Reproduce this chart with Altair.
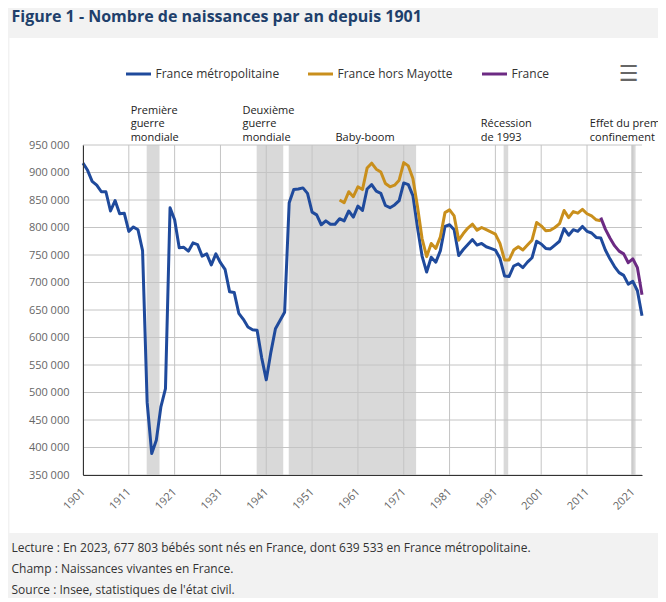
import altair as alt
import pandas as pd

# ---------------- data ----------------
YEARS_METRO = list(range(1901, 2024))
METRO = [
    917000, 904000, 884000, 877000, 865000, 865000, 830000, 849000, 825000, 826000,   # 1901-1910
    793000, 801000, 796000, 758000, 482000, 389000, 413000, 474000, 507000, 836000,   # 1911-1920
    814000, 763000, 764000, 757000, 772000, 769000, 748000, 752000, 732000, 752000,   # 1921-1930
    736000, 724000, 683000, 682000, 644000, 633000, 619000, 614000, 613000, 563000,   # 1931-1940
    523000, 573000, 616000, 631000, 646000, 845000, 869000, 870000, 872000, 862000,   # 1941-1950
    828000, 823000, 805000, 812000, 806000, 806000, 816000, 812000, 830000, 819000,   # 1951-1960
    839000, 831000, 870000, 878000, 866000, 862000, 840000, 836000, 841000, 849000,   # 1961-1970
    881000, 878000, 858000, 800000, 748000, 719000, 746000, 737000, 758000, 802000,   # 1971-1980
    805000, 796000, 749000, 760000, 769000, 778000, 768000, 771000, 765000, 762000,   # 1981-1990
    759000, 744000, 712000, 711000, 730000, 734000, 727000, 737000, 745000, 775000,   # 1991-2000
    770000, 762000, 761000, 768000, 775000, 798000, 786000, 796000, 793000, 802000,   # 2001-2010
    793000, 790000, 782000, 781000, 759000, 743000, 729000, 718000, 713000, 697000,   # 2011-2020
    702000, 685000, 639533,                                                           # 2021-2023
]

YEARS_HM = list(range(1957, 2015))
HORS_MAYOTTE = [
    850000, 845000, 865000, 856000,                                                   # 1957-1960
    874000, 869000, 908000, 917000, 906000, 901000, 880000, 874000, 877000, 886000,   # 1961-1970
    918000, 912000, 889000, 838000, 780000, 747000, 771000, 762000, 783000, 827000,   # 1971-1980
    832000, 821000, 777000, 789000, 799000, 806000, 795000, 800000, 796000, 792000,   # 1981-1990
    788000, 771000, 741000, 741000, 759000, 765000, 759000, 768000, 777000, 809000,   # 1991-2000
    803000, 794000, 795000, 800000, 807000, 831000, 818000, 829000, 826000, 833000,   # 2001-2010
    825000, 821000, 814000, 812000,                                                   # 2011-2014
]

YEARS_FR = list(range(2014, 2024))
FRANCE = [818000, 797000, 781000, 767000, 757000, 752000, 736000, 743000, 727000, 677803]

SERIES = ["France métropolitaine", "France hors Mayotte", "France"]
COLORS = ["#1f4a9c", "#c98f1c", "#6c2a83"]

BAND_START = [1914.9, 1938.9, 1945.9, 1992.8, 2020.6]
BAND_END = [1917.7, 1944.7, 1973.7, 1993.8, 2021.6]

NOTE_X = [1911.4, 1935.8, 1956.1, 1987.8, 2011.6]
NOTE_LINES = [
    ["Première", "guerre", "mondiale"],
    ["Deuxième", "guerre", "mondiale"],
    ["Baby-boom"],
    ["Récession", "de 1993"],
    ["Effet du premier", "confinement"],
]

X_TICKS = list(range(1901, 2022, 10))
Y_TICKS = list(range(350000, 950001, 50000))

TITLE = "Figure 1 - Nombre de naissances par an depuis 1901"
FOOTER = [
    "Lecture : En 2023, 677 803 bébés sont nés en France, dont 639 533 en France métropolitaine.",
    "Champ : Naissances vivantes en France.",
    "Source : Insee, statistiques de l'état civil.",
]

# ---------------- tables ----------------
rows = []
for name, yrs, vals in zip(SERIES, [YEARS_METRO, YEARS_HM, YEARS_FR], [METRO, HORS_MAYOTTE, FRANCE]):
    for y, v in zip(yrs, vals):
        rows.append({"annee": y, "naissances": v, "serie": name})
df = pd.DataFrame(rows)

bands_df = pd.DataFrame({"start": BAND_START, "end": BAND_END})
note_rows = []
for x, lines_ in zip(NOTE_X, NOTE_LINES):
    for lev, txt in enumerate(reversed(lines_)):
        note_rows.append({"x": x, "t": txt, "level": lev})
notes_df = pd.DataFrame(note_rows)
one = pd.DataFrame({"k": [0]})

FONT = "Open Sans"

xscale = alt.Scale(domain=[1901, 2023], nice=False, zero=False)
yscale = alt.Scale(domain=[350000, 950000], nice=False, zero=False)

xaxis = alt.Axis(values=X_TICKS, format="d", labelAngle=-45, labelAlign="right", labelBaseline="middle",
                 grid=False, ticks=False,
                 domainColor="#333333", labelColor="#666666", labelFontSize=11, labelFont=FONT,
                 labelPadding=15, labelFlush=False, labelOverlap=False, title=None, zindex=1)
yaxis = alt.Axis(values=Y_TICKS, labelExpr="replace(format(datum.value, ','), ',', ' ')",
                 grid=False, ticks=False, domainColor="#333333", labelColor="#666666",
                 labelFontSize=11, labelFont=FONT, labelPadding=14, labelOverlap=False,
                 title=None, zindex=1)


def X(f):
    return alt.X(f, scale=xscale, axis=xaxis)


def Y(f):
    return alt.Y(f, scale=yscale, axis=yaxis)


panel = alt.Chart(one).mark_rect(color="white").encode(
    x=alt.value(-73.5), x2=alt.value(640), y=alt.value(-107), y2=alt.value(388))

bands = alt.Chart(bands_df).mark_rect(color="#d9d9d9").encode(x=X("start:Q"), x2="end:Q")

vgrid = alt.Chart(pd.DataFrame({"x": X_TICKS})).mark_rule(color="#c4c4c4", strokeWidth=1).encode(x=X("x:Q"))
hgrid = alt.Chart(pd.DataFrame({"y": Y_TICKS})).mark_rule(color="#c4c4c4", strokeWidth=1).encode(y=Y("y:Q"))

lines = alt.Chart(df).mark_line(strokeWidth=3, strokeJoin="round").encode(
    x=X("annee:Q"),
    y=Y("naissances:Q"),
    color=alt.Color("serie:N", scale=alt.Scale(domain=SERIES, range=COLORS),
                    legend=alt.Legend(orient="none", legendX=41.5, legendY=-85, direction="horizontal",
                                      title=None, symbolType="stroke", symbolStrokeWidth=3,
                                      symbolSize=625, labelFont=FONT, labelFontSize=12,
                                      labelColor="#333333", columnPadding=22, labelOffset=3,
                                      padding=0)),
)

note_layers = []
for lev in range(3):
    note_layers.append(
        alt.Chart(notes_df).transform_filter(alt.datum.level == lev).mark_text(
            align="left", baseline="middle", fontSize=11, font=FONT, color="#222222"
        ).encode(x=X("x:Q"), y=alt.value(-7.5 - 13.5 * lev), text="t:N")
    )

title = alt.Chart(one).mark_text(align="left", baseline="top", fontSize=16, font=FONT,
                                 fontWeight="bold", color="#203f6b").encode(
    x=alt.value(-71.5), y=alt.value(-136), text=alt.value(TITLE))

footer = alt.Chart(one).mark_text(align="left", baseline="top", lineBreak="\n", lineHeight=21,
                                  fontSize=12, font=FONT, color="#333333").encode(
    x=alt.value(-71.5), y=alt.value(398), text=alt.value("\n".join(FOOTER)))

menu = alt.Chart(one).mark_text(align="center", baseline="middle", fontSize=22, font="DejaVu Sans",
                                fontWeight="bold", color="#666666").encode(
    x=alt.value(545.5), y=alt.value(-71), text=alt.value("☰"))

chart = alt.layer(panel, bands, vgrid, hgrid, lines, *note_layers, title, footer, menu).properties(
    width=559, height=330,
    padding={"left": 75, "top": 137, "right": 16, "bottom": 123},
    autosize=alt.AutoSizeParams(type="none"),
    background="#f2f2f2",
).configure_view(stroke=None)

chart.save("out.html", embed_options={"renderer": "svg", "actions": False})
